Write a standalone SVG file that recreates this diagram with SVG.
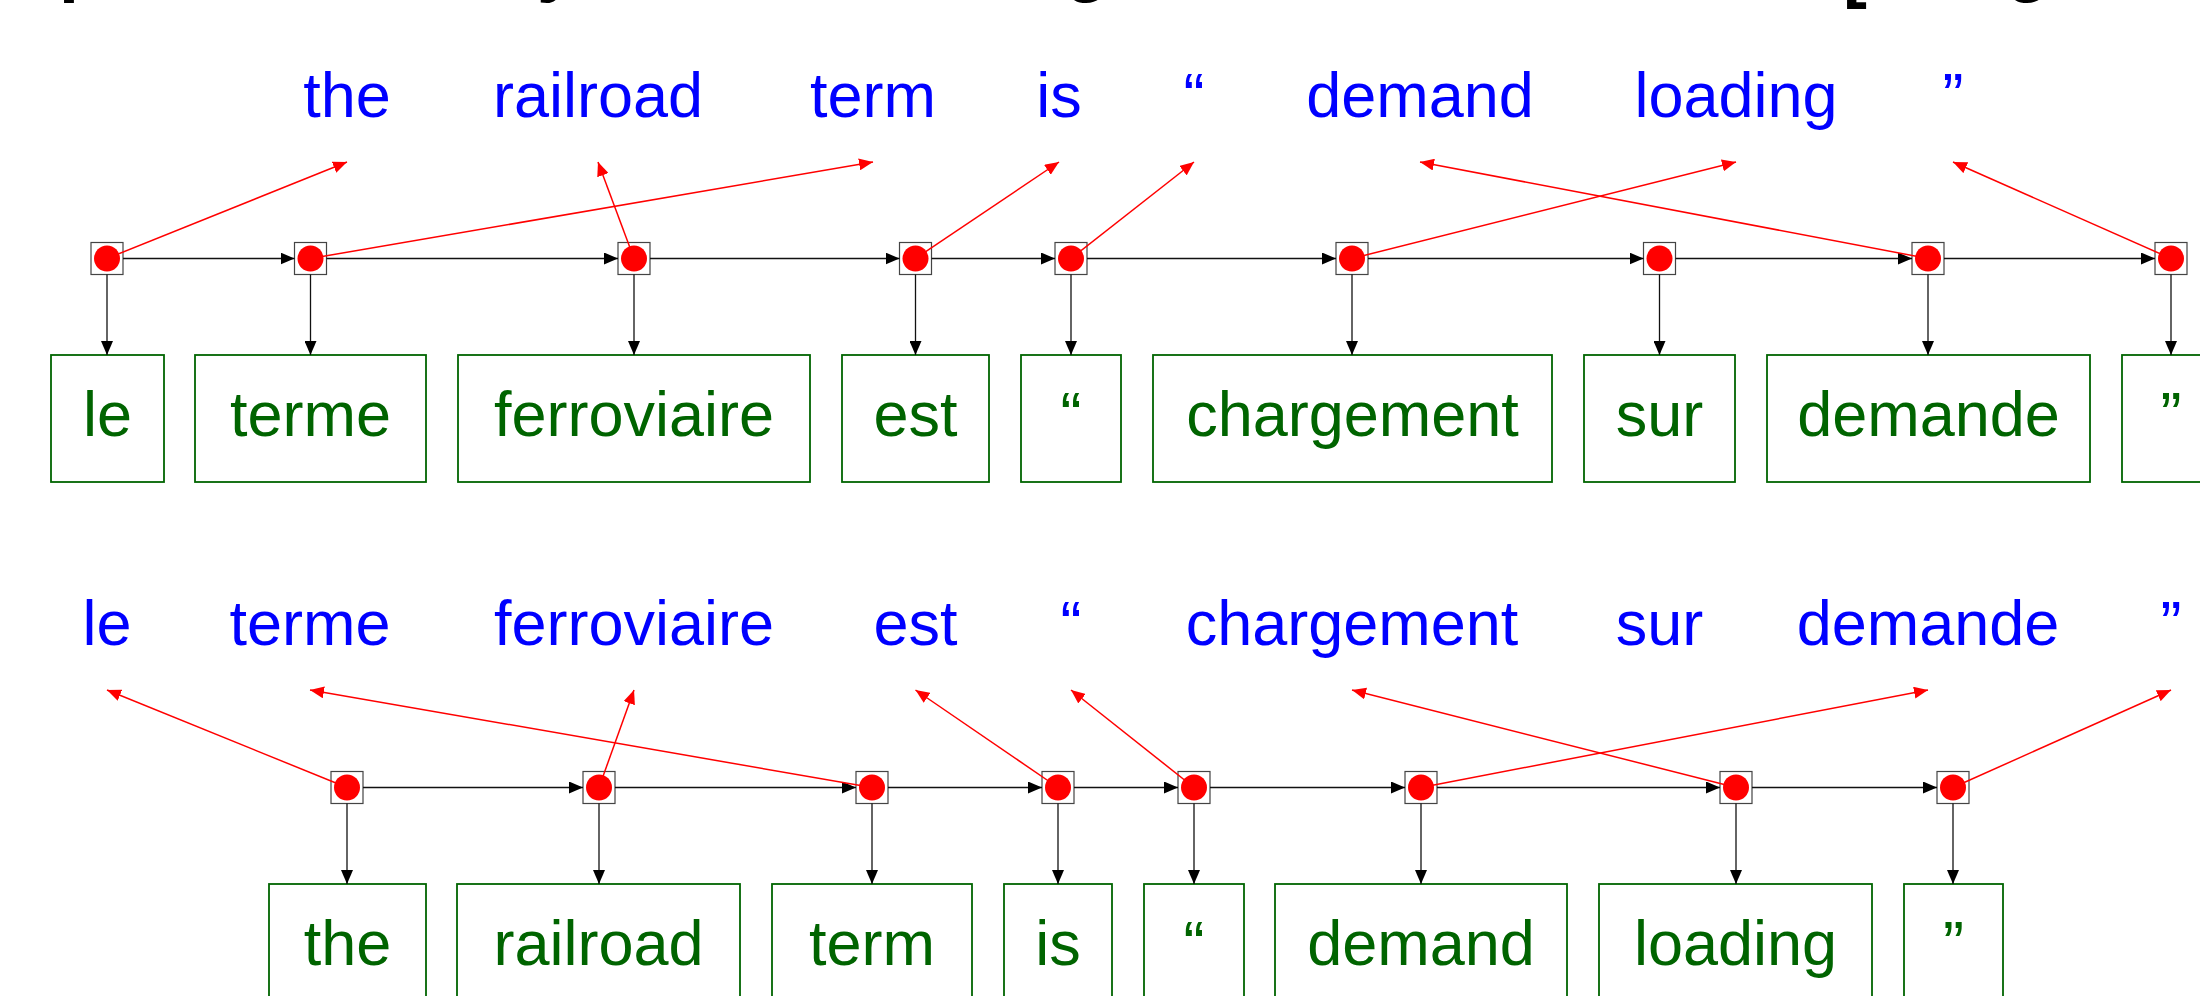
<svg xmlns="http://www.w3.org/2000/svg" width="2200" height="996" viewBox="0 0 2200 996">
<style>
.tw{font-family:"Liberation Sans",Arial,sans-serif;font-size:63px;text-anchor:middle}
.en{fill:#0000ff}
.gr{fill:#006400}
.box{fill:#fff;stroke:#006400;stroke-width:1.8}
.sq{fill:#fff;stroke:#444;stroke-width:1.2}
.dot{fill:#ff0000}
.seq{stroke:#111;stroke-width:1.5;fill:none;marker-end:url(#ab)}
.emit{stroke:#111;stroke-width:1.3;fill:none;marker-end:url(#ab)}
.al{stroke:#ff0000;stroke-width:1.5;fill:none;marker-end:url(#ar)}
.title{font-family:"Liberation Sans",Arial,sans-serif;font-size:72px;font-weight:bold;fill:#000;text-anchor:middle}
</style>
<defs>
<marker id="ab" markerWidth="14" markerHeight="12" refX="14" refY="6" orient="auto" markerUnits="userSpaceOnUse"><path d="M0,0 L14,6 L0,12 z" fill="#000"/></marker>
<marker id="ar" markerWidth="14" markerHeight="12" refX="14" refY="6" orient="auto" markerUnits="userSpaceOnUse"><path d="M0,0 L14,6 L0,12 z" fill="#ff0000"/></marker>
</defs>
<rect x="0" y="0" width="2200" height="996" fill="#fff"/>
<text class="title" x="81 557 1087 1855 2028" y="-12 -12 -12 -6 -12">pyg[g</text>

<!-- top row: English labels -->
<g id="top-labels">
<text class="tw en" x="347" y="117">the</text>
<text class="tw en" x="598" y="117">railroad</text>
<text class="tw en" x="873" y="117">term</text>
<text class="tw en" x="1059" y="117">is</text>
<text class="tw en" x="1194" y="117">“</text>
<text class="tw en" x="1420" y="117">demand</text>
<text class="tw en" x="1736" y="117">loading</text>
<text class="tw en" x="1953" y="117">”</text>
</g>

<!-- top row nodes -->
<g id="t1"><rect class="sq" x="91" y="242.5" width="32" height="32"/><circle class="dot" cx="107" cy="258.5" r="13"/></g>
<g id="t2"><rect class="sq" x="294.5" y="242.5" width="32" height="32"/><circle class="dot" cx="310.5" cy="258.5" r="13"/></g>
<g id="t3"><rect class="sq" x="618" y="242.5" width="32" height="32"/><circle class="dot" cx="634" cy="258.5" r="13"/></g>
<g id="t4"><rect class="sq" x="899.5" y="242.5" width="32" height="32"/><circle class="dot" cx="915.5" cy="258.5" r="13"/></g>
<g id="t5"><rect class="sq" x="1055" y="242.5" width="32" height="32"/><circle class="dot" cx="1071" cy="258.5" r="13"/></g>
<g id="t6"><rect class="sq" x="1336" y="242.5" width="32" height="32"/><circle class="dot" cx="1352" cy="258.5" r="13"/></g>
<g id="t7"><rect class="sq" x="1643.5" y="242.5" width="32" height="32"/><circle class="dot" cx="1659.5" cy="258.5" r="13"/></g>
<g id="t8"><rect class="sq" x="1912" y="242.5" width="32" height="32"/><circle class="dot" cx="1928" cy="258.5" r="13"/></g>
<g id="t9"><rect class="sq" x="2155" y="242.5" width="32" height="32"/><circle class="dot" cx="2171" cy="258.5" r="13"/></g>

<!-- top row French word boxes -->
<g id="tw-le"><rect class="box" x="51" y="355" width="113" height="127"/><text class="tw gr" x="107.5" y="436">le</text></g>
<g id="tw-terme"><rect class="box" x="195" y="355" width="231" height="127"/><text class="tw gr" x="310.5" y="436">terme</text></g>
<g id="tw-ferroviaire"><rect class="box" x="458" y="355" width="352" height="127"/><text class="tw gr" x="634" y="436">ferroviaire</text></g>
<g id="tw-est"><rect class="box" x="842" y="355" width="147" height="127"/><text class="tw gr" x="915.5" y="436">est</text></g>
<g id="tw-lq"><rect class="box" x="1021" y="355" width="100" height="127"/><text class="tw gr" x="1071" y="436">“</text></g>
<g id="tw-chargement"><rect class="box" x="1153" y="355" width="399" height="127"/><text class="tw gr" x="1352.5" y="436">chargement</text></g>
<g id="tw-sur"><rect class="box" x="1584" y="355" width="151" height="127"/><text class="tw gr" x="1659.5" y="436">sur</text></g>
<g id="tw-demande"><rect class="box" x="1767" y="355" width="323" height="127"/><text class="tw gr" x="1928.5" y="436">demande</text></g>
<g id="tw-rq"><rect class="box" x="2122" y="355" width="98" height="127"/><text class="tw gr" x="2171" y="436">”</text></g>

<!-- bottom row: French labels -->
<g id="bottom-labels">
<text class="tw en" x="107" y="645">le</text>
<text class="tw en" x="310" y="645">terme</text>
<text class="tw en" x="634" y="645">ferroviaire</text>
<text class="tw en" x="915.5" y="645">est</text>
<text class="tw en" x="1071" y="645">“</text>
<text class="tw en" x="1352" y="645">chargement</text>
<text class="tw en" x="1659.5" y="645">sur</text>
<text class="tw en" x="1928" y="645">demande</text>
<text class="tw en" x="2171" y="645">”</text>
</g>

<!-- bottom row nodes -->
<g id="b1"><rect class="sq" x="331" y="771.5" width="32" height="32"/><circle class="dot" cx="347" cy="787.5" r="13"/></g>
<g id="b2"><rect class="sq" x="583" y="771.5" width="32" height="32"/><circle class="dot" cx="599" cy="787.5" r="13"/></g>
<g id="b3"><rect class="sq" x="856" y="771.5" width="32" height="32"/><circle class="dot" cx="872" cy="787.5" r="13"/></g>
<g id="b4"><rect class="sq" x="1042" y="771.5" width="32" height="32"/><circle class="dot" cx="1058" cy="787.5" r="13"/></g>
<g id="b5"><rect class="sq" x="1178" y="771.5" width="32" height="32"/><circle class="dot" cx="1194" cy="787.5" r="13"/></g>
<g id="b6"><rect class="sq" x="1405" y="771.5" width="32" height="32"/><circle class="dot" cx="1421" cy="787.5" r="13"/></g>
<g id="b7"><rect class="sq" x="1720" y="771.5" width="32" height="32"/><circle class="dot" cx="1736" cy="787.5" r="13"/></g>
<g id="b8"><rect class="sq" x="1937" y="771.5" width="32" height="32"/><circle class="dot" cx="1953" cy="787.5" r="13"/></g>

<!-- bottom row English word boxes -->
<g id="bw-the"><rect class="box" x="269" y="884" width="157" height="127"/><text class="tw gr" x="347.5" y="965">the</text></g>
<g id="bw-railroad"><rect class="box" x="457" y="884" width="283" height="127"/><text class="tw gr" x="598.5" y="965">railroad</text></g>
<g id="bw-term"><rect class="box" x="772" y="884" width="200" height="127"/><text class="tw gr" x="872" y="965">term</text></g>
<g id="bw-is"><rect class="box" x="1004" y="884" width="108" height="127"/><text class="tw gr" x="1058" y="965">is</text></g>
<g id="bw-lq"><rect class="box" x="1144" y="884" width="100" height="127"/><text class="tw gr" x="1194" y="965">“</text></g>
<g id="bw-demand"><rect class="box" x="1275" y="884" width="292" height="127"/><text class="tw gr" x="1421" y="965">demand</text></g>
<g id="bw-loading"><rect class="box" x="1599" y="884" width="273" height="127"/><text class="tw gr" x="1735.5" y="965">loading</text></g>
<g id="bw-rq"><rect class="box" x="1904" y="884" width="99" height="127"/><text class="tw gr" x="1953.5" y="965">”</text></g>

<g id="connectors">
<!-- top sequence -->
<line class="seq" x1="123" y1="258.5" x2="294.5" y2="258.5"/>
<line class="seq" x1="326.5" y1="258.5" x2="618" y2="258.5"/>
<line class="seq" x1="650" y1="258.5" x2="899.5" y2="258.5"/>
<line class="seq" x1="931.5" y1="258.5" x2="1055" y2="258.5"/>
<line class="seq" x1="1087" y1="258.5" x2="1336" y2="258.5"/>
<line class="seq" x1="1368" y1="258.5" x2="1643.5" y2="258.5"/>
<line class="seq" x1="1675.5" y1="258.5" x2="1912" y2="258.5"/>
<line class="seq" x1="1944" y1="258.5" x2="2155" y2="258.5"/>
<!-- top emissions -->
<line class="emit" x1="107" y1="274.5" x2="107" y2="355"/>
<line class="emit" x1="310.5" y1="274.5" x2="310.5" y2="355"/>
<line class="emit" x1="634" y1="274.5" x2="634" y2="355"/>
<line class="emit" x1="915.5" y1="274.5" x2="915.5" y2="355"/>
<line class="emit" x1="1071" y1="274.5" x2="1071" y2="355"/>
<line class="emit" x1="1352" y1="274.5" x2="1352" y2="355"/>
<line class="emit" x1="1659.5" y1="274.5" x2="1659.5" y2="355"/>
<line class="emit" x1="1928" y1="274.5" x2="1928" y2="355"/>
<line class="emit" x1="2171" y1="274.5" x2="2171" y2="355"/>
<!-- top alignments -->
<line class="al" x1="107" y1="258.5" x2="347" y2="162"/>
<line class="al" x1="310.5" y1="258.5" x2="873" y2="162"/>
<line class="al" x1="634" y1="258.5" x2="598" y2="162"/>
<line class="al" x1="915.5" y1="258.5" x2="1059" y2="162"/>
<line class="al" x1="1071" y1="258.5" x2="1194" y2="162"/>
<line class="al" x1="1352" y1="258.5" x2="1736" y2="162"/>
<line class="al" x1="1928" y1="258.5" x2="1420" y2="162"/>
<line class="al" x1="2171" y1="258.5" x2="1953" y2="162"/>
<!-- bottom sequence -->
<line class="seq" x1="363" y1="787.5" x2="583" y2="787.5"/>
<line class="seq" x1="615" y1="787.5" x2="856" y2="787.5"/>
<line class="seq" x1="888" y1="787.5" x2="1042" y2="787.5"/>
<line class="seq" x1="1074" y1="787.5" x2="1178" y2="787.5"/>
<line class="seq" x1="1210" y1="787.5" x2="1405" y2="787.5"/>
<line class="seq" x1="1437" y1="787.5" x2="1720" y2="787.5"/>
<line class="seq" x1="1752" y1="787.5" x2="1937" y2="787.5"/>
<!-- bottom emissions -->
<line class="emit" x1="347" y1="803.5" x2="347" y2="884"/>
<line class="emit" x1="599" y1="803.5" x2="599" y2="884"/>
<line class="emit" x1="872" y1="803.5" x2="872" y2="884"/>
<line class="emit" x1="1058" y1="803.5" x2="1058" y2="884"/>
<line class="emit" x1="1194" y1="803.5" x2="1194" y2="884"/>
<line class="emit" x1="1421" y1="803.5" x2="1421" y2="884"/>
<line class="emit" x1="1736" y1="803.5" x2="1736" y2="884"/>
<line class="emit" x1="1953" y1="803.5" x2="1953" y2="884"/>
<!-- bottom alignments -->
<line class="al" x1="347" y1="787.5" x2="107" y2="690"/>
<line class="al" x1="599" y1="787.5" x2="634" y2="690"/>
<line class="al" x1="872" y1="787.5" x2="310" y2="690"/>
<line class="al" x1="1058" y1="787.5" x2="915.5" y2="690"/>
<line class="al" x1="1194" y1="787.5" x2="1071" y2="690"/>
<line class="al" x1="1421" y1="787.5" x2="1928" y2="690"/>
<line class="al" x1="1736" y1="787.5" x2="1352" y2="690"/>
<line class="al" x1="1953" y1="787.5" x2="2171" y2="690"/>
</g>
</svg>
